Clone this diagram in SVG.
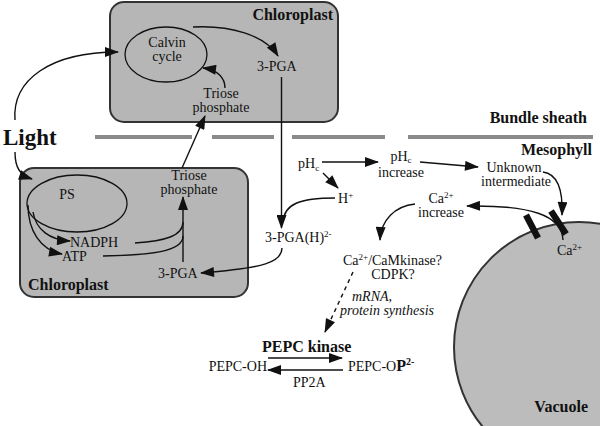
<svg xmlns="http://www.w3.org/2000/svg" width="600" height="426" viewBox="0 0 600 426">
<defs>
<style>
text{font-family:"Liberation Serif","Times New Roman",serif;font-size:14px;fill:#111}
.b{font-weight:bold;font-size:16px}
.i{font-style:italic}
.m{text-anchor:middle}
.e{text-anchor:end}
.sup{font-size:9px}
.box{fill:#b6b6b6;stroke:#333;stroke-width:2}
.vac{fill:#bcbcbc;stroke:#333;stroke-width:2}
.ell{fill:none;stroke:#111;stroke-width:1.3}
.c{fill:none;stroke:#111;stroke-width:1.4}
.a{marker-end:url(#ah)}
.sheath{stroke:#8a8a8a;stroke-width:4;fill:none}
.chan{stroke:#111;stroke-width:6.5}
</style>
<marker id="ah" viewBox="0 0 14 10" refX="13" refY="5" markerWidth="15" markerHeight="10" orient="auto" markerUnits="userSpaceOnUse"><path d="M0,0 L14,5 L0,10 z" fill="#111"/></marker>
</defs>
<rect width="600" height="426" fill="#fff"/>

<g id="vacuole">
<circle cx="579" cy="347" r="125" class="vac"/>
<text x="557" y="255">Ca<tspan class="sup" dy="-5">2+</tspan></text>
<text x="588" y="412" class="b e">Vacuole</text>
</g>

<g id="bundle-sheath-boundary">
<path class="sheath" d="M95,137 H192 M212,137 H274 M292,137 H385 M408,137 H593"/>
<text x="587" y="123" class="b e">Bundle sheath</text>
<text x="592" y="155" class="b e">Mesophyll</text>
</g>

<g id="chloroplast-bs">
<rect x="110" y="2" width="228" height="120" rx="14" class="box"/>
<text x="333" y="20" class="b e">Chloroplast</text>
</g>
<g id="calvin-cycle">
<ellipse cx="166" cy="54.5" rx="41" ry="27.5" class="ell"/>
<text x="167" y="47" class="m">Calvin</text>
<text x="167" y="61" class="m">cycle</text>
</g>
<g id="pga-bs"><text x="257" y="71">3-PGA</text></g>
<g id="triose-bs">
<text x="221" y="98" class="m">Triose</text>
<text x="221" y="112" class="m">phosphate</text>
</g>

<g id="chloroplast-m">
<rect x="20" y="168" width="228" height="129" rx="14" class="box"/>
<text x="28" y="290" class="b">Chloroplast</text>
</g>
<g id="ps">
<ellipse cx="77" cy="203.5" rx="50" ry="28.5" class="ell"/>
<text x="67" y="199" class="m">PS</text>
</g>
<g id="nadph"><text x="70" y="247">NADPH</text></g>
<g id="atp"><text x="62" y="261">ATP</text></g>
<g id="pga-m"><text x="158" y="278">3-PGA</text></g>
<g id="triose-m">
<text x="189" y="180" class="m">Triose</text>
<text x="189" y="194" class="m">phosphate</text>
</g>

<g id="light"><text x="3" y="145" style="font-size:23px;font-weight:bold">Light</text></g>

<g id="pgah"><text x="265" y="242">3-PGA(H)<tspan class="sup" dy="-5">2-</tspan></text></g>
<g id="phc"><text x="298" y="168">pH<tspan class="sup" dy="3">c</tspan></text></g>
<g id="hplus"><text x="338" y="203">H<tspan class="sup" dy="-5">+</tspan></text></g>
<g id="phc-increase">
<text x="401" y="161" class="m">pH<tspan class="sup" dy="2">c</tspan></text>
<text x="401" y="177" class="m">increase</text>
</g>
<g id="unknown">
<text x="514" y="172" class="m">Unknown</text>
<text x="516" y="186" class="m">intermediate</text>
</g>
<g id="ca-increase">
<text x="441" y="203" class="m">Ca<tspan class="sup" dy="-5">2+</tspan></text>
<text x="441" y="217" class="m">increase</text>
</g>
<g id="kinase">
<text x="343" y="265">Ca<tspan class="sup" dy="-5">2+</tspan><tspan dy="5">/CaMkinase?</tspan></text>
<text x="393" y="279" class="m">CDPK?</text>
</g>
<g id="synthesis-label">
<text x="352" y="301" class="i">mRNA,</text>
<text x="340" y="315" class="i">protein synthesis</text>
</g>
<g id="pepc-kinase"><text x="262" y="352" class="b">PEPC kinase</text></g>
<g id="pepc-oh"><text x="267" y="371" class="e">PEPC-OH</text></g>
<g id="pepc-op"><text x="348" y="371">PEPC-O<tspan style="font-weight:bold;font-size:16px">P</tspan><tspan style="font-weight:bold;font-size:10px" dy="-6">2-</tspan></text></g>
<g id="pp2a"><text x="293" y="387">PP2A</text></g>

<g id="channels">
<line x1="526" y1="215" x2="538" y2="238" class="chan"/>
<line x1="551" y1="211" x2="566" y2="234" class="chan"/>
</g>

<g id="connectors">
<path class="c a" d="M15,120 C12,80 50,52 118,52"/>
<path class="c a" d="M15,152 C15,168 20,175 32,179"/>
<path class="c a" d="M193,27 C230,25 265,35 278,56"/>
<path class="c a" d="M225,88 C225,78 218,70 203,68"/>
<path class="c a" d="M182,168 L205,116"/>
<path class="c a" d="M281.5,77 L281.5,228"/>
<path class="c" d="M335,198 C300,198 284,204 283,222"/>
<path class="c a" d="M282,248 C282,262 265,268 201,273"/>
<path class="c a" d="M183,262 L183,197"/>
<path class="c" d="M135,243 C165,241 183,236 183,222"/>
<path class="c" d="M103,256 C150,255 183,252 183,236"/>
<path class="c a" d="M28,205 C28,230 40,250 62,254"/>
<path class="c a" d="M33,212 C36,230 50,240 70,241"/>
<path class="c a" d="M322,162 L378,162"/>
<path class="c a" d="M323,173 L338,188"/>
<path class="c a" d="M420,162 L478,167"/>
<path class="c a" d="M543,172 C558,174 563,190 562,215"/>
<path class="c a" d="M563,240 C562,215 530,205 467,206"/>
<path class="c a" d="M415,204 C395,206 381,220 380,240"/>
<path class="c a" d="M353,272 L325,332" stroke-dasharray="4,4"/>
<path class="c a" d="M268,358 L342,358"/>
<path class="c a" d="M343,370 L268,370"/>
</g>
</svg>
